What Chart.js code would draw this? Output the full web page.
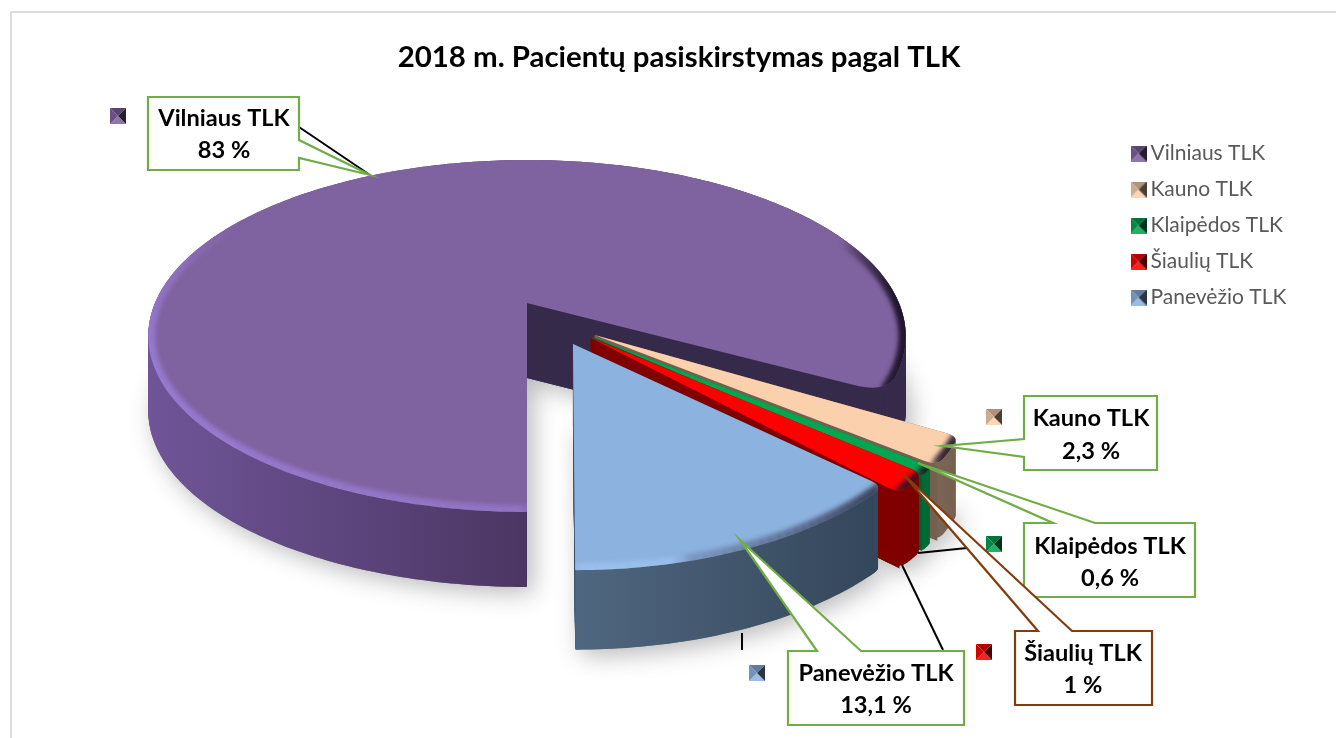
<!DOCTYPE html>
<html><head><meta charset="utf-8">
<style>html,body{margin:0;padding:0;background:#fff;overflow:hidden}#w{width:1336px;height:738px;position:relative}</style>
<script src="https://cdn.jsdelivr.net/npm/chart.js@4/dist/chart.umd.min.js"></script>
</head><body><div id="w"><canvas id="c" width="1336" height="738"></canvas></div>
<script>
const categories=['Vilniaus TLK','Kauno TLK','Klaipėdos TLK','Šiaulių TLK','Panevėžio TLK'];
const shares=[83,2.3,0.6,1,13.1];
const titleText='2018 m. Pacientų pasiskirstymas pagal TLK';

const topColors=['#7f62a0','#fbd0ad','#00a650','#ff0000','#8cb2df'];
const wallLeft=['#6f5598','#8a7260','#007a3c','#8a0000','#4f6780'];
const wallMid=['#4b3663','#7f6958','#006c36','#800000','#42566d'];
const wallRight=['#352a4a','#75604f','#006030','#7a0000','#33465a'];
const cutColors=['#352a4a','#75604f','#006030','#800000','#33465a'];
const rimColors=['#a084e0','#ffffff','#ffffff','#ffffff','#a6cdf8'];
const wallRange=[[148,906],[880,960],[880,960],[875,920],[574,880]];
const corners=[[1,30],[12,12],[5,5],[12,12],[14,1]];
const warp=[
 {sx:1,sy:1,k:0,dz:1,spread:1},
 {sx:.96,sy:1.05,k:0,dz:1,spread:1},
 {sx:.95,sy:1.04,k:0,dz:1,spread:1.3},
 {sx:.95,sy:1.03,k:0,dz:1,spread:1.7},
 {sx:.94,sy:.98,k:.036,dz:1.06,spread:1}
];

const view={x0:527,y0:303,R:372,S:169.8,p:0.1875,depth:75};
const callouts=[
 {box:[148,97,299,170],ptr:[[299,140],[370,175],[299,158]],stroke:'#70ad47',key:[110,108],lead:[[299,127],[370,175]],t:[118,150],cx:224},
 {box:[1024,396,1157,470],ptr:[[1024,439],[943,446],[1024,457]],stroke:'#70ad47',key:[986,409],lead:null,t:[418,451],cx:1091},
 {box:[1024,523,1195,597],ptr:[[1053,523],[918,463],[1095,523]],stroke:'#70ad47',key:[986,536],lead:[[918,553],[967,548]],t:[546,578],cx:1110},
 {box:[1015,631,1152,705],ptr:[[1038,631],[904,475],[1072,631]],stroke:'#843c0c',key:[976,644],lead:[[902,565],[943,650]],t:[653,685],cx:1083},
 {box:[788,651,964,725],ptr:[[817,651],[740,540],[861,651]],stroke:'#70ad47',key:[749,665],lead:[[742,633],[742,650]],t:[673,705],cx:876}
];

function hexRgb(h){return [1,3,5].map(i=>parseInt(h.slice(i,i+2),16));}
function tone(h,f){const c=hexRgb(h);return 'rgb('+c.map(v=>Math.round(f>=0?v+(255-v)*f:v*(1+f))).join(',')+')';}
function makeKey(col){
  const n=16,k=document.createElement('canvas');k.width=n;k.height=n;const g=k.getContext('2d');
  const tri=(a,b,c)=>{g.fillStyle=c;g.beginPath();g.moveTo(a[0],a[1]);g.lineTo(b[0],b[1]);g.lineTo(n/2,n/2);g.closePath();g.fill();};
  tri([0,0],[n,0],tone(col,-0.3));tri([0,n],[n,n],tone(col,0.12));tri([0,0],[0,n],tone(col,-0.18));tri([n,0],[n,n],tone(col,-0.7));
  return k;
}
const keys=topColors.map(makeKey);

function P(u,v){const w=1-view.p*v;return [view.x0+view.R*u/w,view.y0+view.S*v/w];}

const pie3d={id:'pie3d',
 afterLayout(chart){
   const lg=chart.legend;lg.left=1122;lg.right=1320;lg.top=128;lg.bottom=370;
   const tb=chart.titleBlock;tb.left=22;tb.right=1336;tb.top=32;tb.bottom=80;
 },
 beforeDraw(chart){
   const c=chart.ctx;c.save();c.fillStyle='#fff';c.fillRect(0,0,1336,738);
   c.fillStyle='#dcdcdc';c.fillRect(10,11,1326,2);c.fillRect(10,11,2,727);c.restore();
 },
 beforeDatasetsDraw(chart){
   const c=chart.ctx,arcs=chart.getDatasetMeta(0).data;
   const g=arcs.map((el,i)=>{
     const a0=el.startAngle,a1=a0+(el.endAngle-a0)*warp[i].spread,mid=(a0+el.endAngle)/2,e=el.options.offset/100;
     return {i,a0,a1,ox:Math.cos(mid)*e,oy:Math.sin(mid)*e};
   });
   const base=g[0];
   const pt=(s,r,a,z)=>{
     const W=warp[s.i],A=P(s.ox-base.ox,s.oy-base.oy),Q=P(s.ox-base.ox+r*Math.cos(a),s.oy-base.oy+r*Math.sin(a));
     const dy=Q[1]-A[1];
     return [A[0]+(Q[0]-A[0])*W.sx-W.k*dy,A[1]+dy*W.sy+z*view.depth*W.dz];
   };
   const path=(ctx,s,z)=>{
     const [r0,r1]=corners[s.i],rp0=r0/view.R,rp1=r1/view.R,span=s.a1-s.a0,d0=Math.min(rp0,span/2.2),d1=Math.min(rp1,span/2.2);
     ctx.beginPath();let p=pt(s,0,0,z);ctx.moveTo(p[0],p[1]);
     p=pt(s,1-rp0,s.a0,z);ctx.lineTo(p[0],p[1]);
     let q=pt(s,1,s.a0,z);p=pt(s,1,s.a0+d0,z);ctx.quadraticCurveTo(q[0],q[1],p[0],p[1]);
     const n=Math.max(6,Math.ceil(span*60));
     for(let k=1;k<=n;k++){p=pt(s,1,s.a0+d0+(span-d0-d1)*k/n,z);ctx.lineTo(p[0],p[1]);}
     q=pt(s,1,s.a1,z);p=pt(s,1-rp1,s.a1,z);ctx.quadraticCurveTo(q[0],q[1],p[0],p[1]);
     ctx.closePath();
   };
   c.save();c.shadowColor='rgba(0,0,0,0.28)';c.shadowBlur=24;c.shadowOffsetX=6;c.shadowOffsetY=6;c.fillStyle='#888';
   g.forEach(s=>{path(c,s,1);c.fill();});c.restore();
   const off=document.createElement('canvas');off.width=1336;off.height=738;const oc=off.getContext('2d');
   g.forEach(s=>{
     const i=s.i,gr=c.createLinearGradient(wallRange[i][0],0,wallRange[i][1],0);
     gr.addColorStop(0,wallLeft[i]);gr.addColorStop(0.5,wallMid[i]);gr.addColorStop(1,wallRight[i]);
     c.fillStyle=gr;
     for(let z=75;z>=0;z-=1){path(c,s,z/75);c.fill();}
     const a=pt(s,0,0,0),b=pt(s,1,s.a1,0),d=pt(s,1,s.a1,1),e=pt(s,0,0,1);
     c.fillStyle=cutColors[i];c.beginPath();c.moveTo(a[0],a[1]);c.lineTo(b[0],b[1]);c.lineTo(d[0],d[1]);c.lineTo(e[0],e[1]);c.closePath();c.fill();
     path(c,s,0);c.fillStyle=topColors[i];c.fill();
     oc.clearRect(0,0,1336,738);oc.lineWidth=15;oc.lineCap='round';
     const rgb=hexRgb(rimColors[i]).join(','),m=Math.ceil((s.a1-s.a0)*40)+2;
     for(let k=0;k<m;k++){
       const t0=s.a0+(s.a1-s.a0)*k/m,t1=s.a0+(s.a1-s.a0)*(k+1)/m,tm=(t0+t1)/2;
       const lit=Math.max(0,-0.55*Math.cos(tm)+0.83*Math.sin(tm));
       const gate=Math.min(1,Math.max(0,(Math.sin(tm)+0.45)/0.45)),dk=Math.pow(Math.max(0,Math.cos(tm)),1.5)*gate;
       const p0=pt(s,1,t0,0),p1=pt(s,1,t1,0);
       oc.strokeStyle=dk>0.12?'rgba(30,20,40,'+(0.55*dk)+')':'rgba('+rgb+','+(i===0||i===4?0.35*lit:0.12*lit)+')';
       oc.beginPath();oc.moveTo(p0[0],p0[1]);oc.lineTo(p1[0],p1[1]);oc.stroke();
     }
     c.save();path(c,s,0);c.clip();c.filter='blur(2px)';c.drawImage(off,0,0);c.restore();
   });
   return false;
 },
 afterDraw(chart){
   const c=chart.ctx;
   callouts.forEach((b,i)=>{
     c.save();
     if(b.lead){c.strokeStyle='#000';c.lineWidth=2;c.beginPath();b.lead.forEach((p,k)=>k?c.lineTo(p[0],p[1]):c.moveTo(p[0],p[1]));c.stroke();}
     c.drawImage(keys[i],b.key[0],b.key[1]);
     const [x0,y0,x1,y1]=b.box,[p,q,r]=b.ptr;
     c.fillStyle='#fff';c.strokeStyle=b.stroke;c.lineWidth=2.2;c.lineJoin='miter';
     c.beginPath();
     if(p[0]===x0){c.moveTo(x0,y0);c.lineTo(x1,y0);c.lineTo(x1,y1);c.lineTo(x0,y1);c.lineTo(r[0],r[1]);c.lineTo(q[0],q[1]);c.lineTo(p[0],p[1]);}
     else if(p[0]===x1){c.moveTo(x0,y0);c.lineTo(x1,y0);c.lineTo(p[0],p[1]);c.lineTo(q[0],q[1]);c.lineTo(r[0],r[1]);c.lineTo(x1,y1);c.lineTo(x0,y1);}
     else{c.moveTo(x0,y0);c.lineTo(p[0],p[1]);c.lineTo(q[0],q[1]);c.lineTo(r[0],r[1]);c.lineTo(x1,y0);c.lineTo(x1,y1);c.lineTo(x0,y1);}
     c.closePath();c.fill();c.stroke();
     c.fillStyle='#000';c.font='bold 23.6px Lato';c.textAlign='center';c.textBaseline='middle';
     c.fillText(chart.data.labels[i],b.cx,b.t[0]);
     c.fillText(String(chart.data.datasets[0].data[i]).replace('.',',')+' %',b.cx,b.t[1]);
     c.restore();
   });
 }
};

new Chart(document.getElementById('c'),{
 type:'pie',
 plugins:[pie3d],
 data:{labels:categories,datasets:[{data:shares,backgroundColor:topColors,borderWidth:0,offset:13}]},
 options:{responsive:false,animation:false,rotation:180,
  layout:{padding:{top:80,bottom:10,left:10,right:230}},
  plugins:{tooltip:{enabled:false},
   title:{display:true,text:titleText,color:'#000',font:{family:'Lato',size:29.4,weight:'bold'},padding:{top:8,bottom:8}},
   legend:{position:'right',align:'start',
    labels:{usePointStyle:true,pointStyleWidth:3,color:'#595959',font:{family:'Lato',size:21},padding:15,
     generateLabels:(ch)=>ch.data.labels.map((t,i)=>({text:t,pointStyle:keys[i],fillStyle:topColors[i],strokeStyle:topColors[i],lineWidth:0,fontColor:'#595959',hidden:false,index:i}))}}
  }}
});
</script></body></html>
